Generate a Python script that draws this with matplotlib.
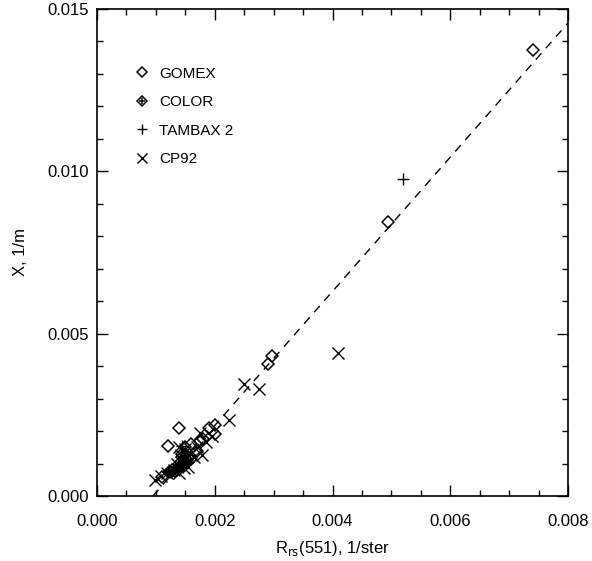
import matplotlib.pyplot as plt
from matplotlib.ticker import MultipleLocator, FormatStrFormatter

plt.rcParams['font.family'] = ['Liberation Sans', 'DejaVu Sans']

# GOMEX (open diamonds)
gomex_x = [0.00740, 0.00495, 0.00297, 0.00290, 0.00139, 0.00120, 0.00200,
           0.00190, 0.00200, 0.00180, 0.00160, 0.00150, 0.00170, 0.00110,
           0.00125, 0.00135, 0.00150, 0.00155, 0.00145, 0.00160, 0.00175]
gomex_y = [0.01375, 0.00845, 0.00430, 0.00405, 0.00210, 0.00155, 0.00220,
           0.00210, 0.00190, 0.00175, 0.00160, 0.00150, 0.00140, 0.00058,
           0.00075, 0.00080, 0.00100, 0.00120, 0.00130, 0.00115, 0.00170]

# COLOR (diamond with a cross)
color_x = [0.00122, 0.00128, 0.00133, 0.00138, 0.00142, 0.00147, 0.00150,
           0.00153, 0.00145, 0.00140]
color_y = [0.00075, 0.00080, 0.00078, 0.00085, 0.00090, 0.00095, 0.00105,
           0.00110, 0.00120, 0.00100]

# TAMBAX 2 (plus)
tambax_x = [0.00520, 0.00145, 0.00150, 0.00158]
tambax_y = [0.00975, 0.00155, 0.00135, 0.00125]

# CP92 (cross)
cp92_x = [0.00410, 0.00250, 0.00275, 0.00225, 0.00099, 0.00108, 0.00178,
          0.00150, 0.00140, 0.00135, 0.00145, 0.00155, 0.00160, 0.00170,
          0.00185, 0.00195, 0.00130, 0.00140, 0.00148, 0.00152, 0.00165,
          0.00175, 0.00118, 0.00142]
cp92_y = [0.00440, 0.00345, 0.00330, 0.00235, 0.00049, 0.00060, 0.00126,
          0.00145, 0.00150, 0.00100, 0.00110, 0.00090, 0.00130, 0.00150,
          0.00165, 0.00185, 0.00080, 0.00070, 0.00085, 0.00120, 0.00120,
          0.00195, 0.00070, 0.00125]

# regression line end points
fit_x = [0.00095, 0.00800]
fit_y = [0.0, 0.01457]

fig = plt.figure(figsize=(5.92, 5.61), dpi=100)
ax = fig.add_axes([0.1639, 0.1159, 0.7956, 0.8681])

ax.plot(fit_x, fit_y, color='black', linestyle=(0, (6, 5)), linewidth=1.0)

ms = 6
h1, = ax.plot(gomex_x, gomex_y, linestyle='none', marker='D', markersize=ms,
              markerfacecolor='none', markeredgecolor='black', markeredgewidth=1.1)
h2a, = ax.plot(color_x, color_y, linestyle='none', marker='D', markersize=ms,
               markerfacecolor='none', markeredgecolor='black', markeredgewidth=1.1)
h2b, = ax.plot(color_x, color_y, linestyle='none', marker='+', markersize=ms,
               markeredgecolor='black', markeredgewidth=1.1)
h3, = ax.plot(tambax_x, tambax_y, linestyle='none', marker='+', markersize=9,
              markeredgecolor='black', markeredgewidth=1.0)
h4, = ax.plot(cp92_x, cp92_y, linestyle='none', marker='x', markersize=9,
              markeredgecolor='black', markeredgewidth=1.0)

ax.legend([h1, (h2a, h2b), h3, h4], ['GOMEX', 'COLOR', 'TAMBAX 2', 'CP92'],
          loc='upper left', bbox_to_anchor=(0.05, 0.91), frameon=False,
          fontsize=11, handlelength=1.0, handletextpad=0.6, labelspacing=0.95,
          markerscale=0.8)

ax.set_xlim(0, 0.008)
ax.set_ylim(0, 0.015)
ax.xaxis.set_major_locator(MultipleLocator(0.002))
ax.xaxis.set_minor_locator(MultipleLocator(0.0005))
ax.yaxis.set_major_locator(MultipleLocator(0.005))
ax.yaxis.set_minor_locator(MultipleLocator(0.001))
ax.xaxis.set_major_formatter(FormatStrFormatter('%.3f'))
ax.yaxis.set_major_formatter(FormatStrFormatter('%.3f'))
ax.tick_params(which='both', direction='in', top=True, right=True,
               labelsize=12, width=1.0)
ax.tick_params(which='major', length=8)
ax.tick_params(axis='x', which='major', pad=13)
ax.tick_params(axis='y', which='major', pad=6)
ax.tick_params(which='minor', length=4)
for s in ax.spines.values():
    s.set_linewidth(1.2)

ax.set_xlabel(r'R$_{\mathrm{rs}}$(551), 1/ster', fontsize=12, labelpad=7)
ax.set_ylabel('X, 1/m', fontsize=12, labelpad=14)

fig.savefig('out.png', dpi=100)
